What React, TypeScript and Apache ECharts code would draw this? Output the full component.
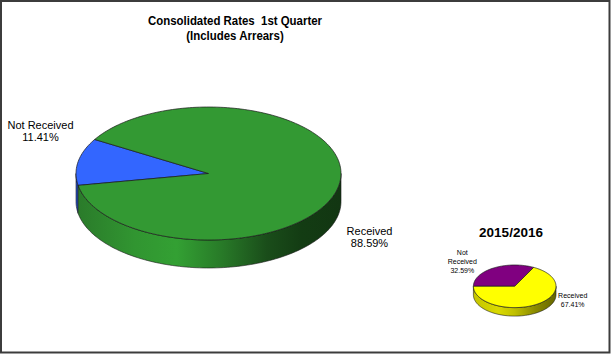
import { useEffect, useRef } from "react";
import * as echarts from "echarts";

// ---- data ----
const bigCategories = ["Not Received", "Received"];
const bigValues = [11.41, 88.59];
const smallCategories = ["Not Received", "Received"];
const smallValues = [32.59, 67.41];
const titleLines = ["Consolidated Rates  1st Quarter", "(Includes Arrears)"];
const smallTitle = "2015/2016";

const FONT = "'Liberation Sans', Arial, Helvetica, sans-serif";

type Layout = {
  cx: number; cy: number; rx: number; ry: number; depth: number; start: number;
  colors: string[]; sideStops: [number, string][][];
  labelPos: [number, number][]; fontSize: number; lineHeight: number; breakName: boolean;
};

const bigLayout: Layout = {
  cx: 208.5, cy: 173.5, rx: 132.5, ry: 66.5, depth: 28, start: 190.3,
  colors: ["#3366FF", "#339933"],
  sideStops: [
    [[0, "#2750c8"], [1, "#2750c8"]],
    [[0, "#2a7a2a"], [0.22, "#319531"], [0.38, "#33a033"], [0.55, "#287a28"], [0.72, "#1a4d1a"], [0.85, "#133c13"], [1, "#123612"]],
  ],
  labelPos: [[40.5, 131.2], [369.5, 237.2]],
  fontSize: 11, lineHeight: 12.5, breakName: false,
};

const smallLayout: Layout = {
  cx: 514.7, cy: 286.3, rx: 41.3, ry: 21.3, depth: 8.5, start: 180,
  colors: ["#800080", "#FFFF00"],
  sideStops: [
    [[0, "#5a005a"], [1, "#5a005a"]],
    [[0, "#c4c400"], [0.3, "#dada00"], [0.5, "#c0c000"], [0.75, "#8a8a00"], [1, "#666600"]],
  ],
  labelPos: [[462.3, 261.7], [572.7, 299.5]],
  fontSize: 7, lineHeight: 9, breakName: true,
};

function makeRender(values: number[], names: string[], L: Layout) {
  const total = values.reduce((a, b) => a + b, 0);
  return (params: any, api: any) => {
    const i = params.dataIndex;
    const v = api.value(0);
    let cum = 0;
    for (let k = 0; k < i; k++) cum += values[k];
    const a0 = L.start - (cum / total) * 360;
    const a1 = a0 - (v / total) * 360;
    const rad = (d: number) => (d * Math.PI) / 180;
    const pt = (d: number, dy = 0) => [L.cx + L.rx * Math.cos(rad(d)), L.cy - L.ry * Math.sin(rad(d)) + dy];
    const arc = (from: number, to: number, dy = 0) => {
      const n = Math.max(2, Math.ceil(Math.abs(to - from) / 1.5));
      const out: number[][] = [];
      for (let s = 0; s <= n; s++) out.push(pt(from + ((to - from) * s) / n, dy));
      return out;
    };
    const children: any[] = [];
    // side faces (front half only)
    for (let k = -2; k <= 2; k++) {
      const lo = Math.max(a1, 180 + 360 * k);
      const hi = Math.min(a0, 360 + 360 * k);
      if (lo < hi) {
        const pts = arc(lo, hi).concat(arc(hi, lo, L.depth));
        children.push({
          type: "polygon",
          shape: { points: pts },
          style: {
            fill: new echarts.graphic.LinearGradient(L.cx - L.rx, 0, L.cx + L.rx, 0, L.sideStops[i].map(([o, c]) => ({ offset: o, color: c })), true),
            stroke: "#1a1a1a",
            lineWidth: 0.6,
          },
        });
      }
    }
    // top face
    const top = [[L.cx, L.cy]].concat(arc(a0, a1));
    children.push({
      type: "polygon",
      shape: { points: top },
      style: { fill: L.colors[i], stroke: "#1a1a1a", lineWidth: 0.7 },
    });
    // label
    const nm = L.breakName ? names[i].replace(" ", "\n") : names[i];
    const text = nm + "\n" + v.toFixed(2) + "%";
    children.push({
      type: "text",
      x: L.labelPos[i][0],
      y: L.labelPos[i][1],
      style: {
        text,
        fill: "#000",
        fontSize: L.fontSize,
        fontFamily: FONT,
        lineHeight: L.lineHeight,
        align: "center",
        verticalAlign: "middle",
        textAlign: "center",
        textVerticalAlign: "middle",
      },
    });
    return { type: "group", children };
  };
}

export default function App() {
  const ref = useRef<HTMLDivElement>(null);
  useEffect(() => {
    if (!ref.current) return;
    const chart = echarts.init(ref.current, undefined, { renderer: "svg" });
    chart.setOption({
      animation: false,
      backgroundColor: "#ffffff",
      graphic: [
        {
          type: "rect",
          shape: { x: 1, y: 1, width: 608.5, height: 351.5 },
          style: { fill: "none", stroke: "#3c3c3c", lineWidth: 2 },
          z: 100,
        },
        {
          type: "text",
          x: 235,
          y: 28.3,
          scaleX: 0.88,
          style: {
            text: titleLines.join("\n"),
            fill: "#000",
            fontSize: 13,
            fontWeight: "bold",
            fontFamily: FONT,
            lineHeight: 15.3,
            align: "center",
            verticalAlign: "middle",
            textAlign: "center",
            textVerticalAlign: "middle",
          },
        },
        {
          type: "text",
          x: 511,
          y: 232,
          style: {
            text: smallTitle,
            fill: "#000",
            fontSize: 13.5,
            fontWeight: "bold",
            fontFamily: FONT,
            align: "center",
            verticalAlign: "middle",
            textAlign: "center",
            textVerticalAlign: "middle",
          },
        },
      ],
      series: [
        {
          type: "custom",
          coordinateSystem: "none",
          renderItem: makeRender(bigValues, bigCategories, bigLayout),
          data: bigValues.map((v, i) => ({ name: bigCategories[i], value: [v] })),
        },
        {
          type: "custom",
          coordinateSystem: "none",
          renderItem: makeRender(smallValues, smallCategories, smallLayout),
          data: smallValues.map((v, i) => ({ name: smallCategories[i], value: [v] })),
        },
      ],
    });
    return () => chart.dispose();
  }, []);
  return (
    <div
      ref={ref}
      style={{ position: "fixed", left: 0, top: 0, width: 611, height: 354 }}
    />
  );
}
